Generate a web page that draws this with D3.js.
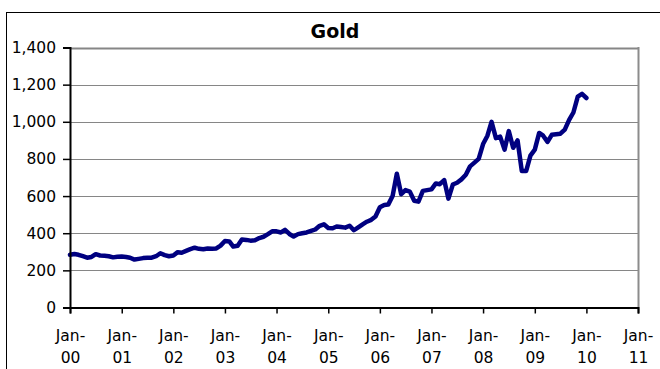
<!DOCTYPE html>
<html><head><meta charset="utf-8">
<script src="https://cdn.jsdelivr.net/npm/d3@7"></script>
<style>html,body{margin:0;padding:0;background:#fff;}svg{display:block;}</style>
</head><body>
<svg id="c" width="660" height="369"></svg>
<script>
const title = "Gold";
const startYear = 2000, startMonth = 0; // Jan-2000, monthly
const prices = [
 284,288,284,276,268,272,287,280,279,276,270,273,
 274,272,268,258,262,266,268,268,276,292,282,276,
 280,298,295,305,314,322,316,314,318,316,318,333,
 358,356,328,332,366,364,360,362,374,381,395,410,
 410,404,418,396,382,395,400,404,412,420,440,448,
 428,427,436,433,430,440,416,432,448,462,472,490,
 540,552,554,600,720,610,632,624,575,570,628,632,
 636,668,664,686,586,662,672,690,715,760,780,800,
 880,925,1000,912,920,850,950,860,900,735,735,818,
 850,940,925,892,930,933,936,958,1010,1050,1135,1150,
 1128
];
const yTicks = [0,200,400,600,800,1000,1200,1400];
const xTickYears = [2000,2001,2002,2003,2004,2005,2006,2007,2008,2009,2010,2011];

const data = prices.map((v,i)=>({date:new Date(startYear, startMonth+i, 1), value:v}));
const svg = d3.select("#c");
const L=70, R=638, T=47.5, B=307.5;
const x = d3.scaleTime().domain([new Date(2000,0,1), new Date(2011,0,1)]).range([L,R]);
const y = d3.scaleLinear().domain([0,1400]).range([B,T]);
const font = "'DejaVu Sans', Verdana, sans-serif";

// outer frame
svg.append("rect").attr("x",6.5).attr("y",12.5).attr("width",700).attr("height",400)
  .attr("fill","none").attr("stroke","#000").attr("stroke-width",1);

// title
svg.append("text").attr("x",335).attr("y",38).attr("text-anchor","middle")
  .attr("font-family",font).attr("font-weight","bold").attr("font-size",19).text(title);

// gridlines
svg.append("g").selectAll("line").data(yTicks.filter(d=>d>0)).join("line")
  .attr("x1",L).attr("x2",R).attr("y1",d=>Math.round(y(d))+0.5).attr("y2",d=>Math.round(y(d))+0.5)
  .attr("stroke","#868686").attr("stroke-width",d=>d===1400?2:1.2);
// right border
svg.append("line").attr("x1",R+0.5).attr("x2",R+0.5).attr("y1",T-0.5).attr("y2",B)
  .attr("stroke","#8c8c8c").attr("stroke-width",2);

// line
svg.append("path").datum(data)
  .attr("d", d3.line().x(d=>x(d.date)).y(d=>y(d.value)))
  .attr("fill","none").attr("stroke","#000080").attr("stroke-width",4.5)
  .attr("stroke-linejoin","round").attr("stroke-linecap","round");

// y axis
const yAx = svg.append("g").attr("transform",`translate(${L},0)`)
  .call(d3.axisLeft(y).tickValues(yTicks).tickSize(7).tickPadding(7).tickFormat(d3.format(",")));
yAx.select(".domain").attr("stroke","#000").attr("stroke-width",2);
yAx.selectAll(".tick line").attr("stroke","#000").attr("stroke-width",1.5);
yAx.selectAll("text").attr("font-family",font).attr("font-size",15.5).attr("fill","#000");

// x axis
const xAx = svg.append("g").attr("transform",`translate(0,${B})`)
  .call(d3.axisBottom(x).tickValues(xTickYears.map(yr=>new Date(yr,0,1))).tickSize(6).tickFormat(""));
xAx.select(".domain").attr("stroke","#000").attr("stroke-width",2);
xAx.selectAll(".tick line").attr("stroke","#000").attr("stroke-width",1.5);
xAx.selectAll(".tick").each(function(d){
  const g = d3.select(this);
  const t = g.append("text").attr("text-anchor","middle").attr("font-family",font)
    .attr("font-size",15.5).attr("fill","#000");
  t.append("tspan").attr("x",0).attr("y",33).text("Jan-");
  t.append("tspan").attr("x",0).attr("y",55).text(d3.timeFormat("%y")(d));
});
</script>
</body></html>
